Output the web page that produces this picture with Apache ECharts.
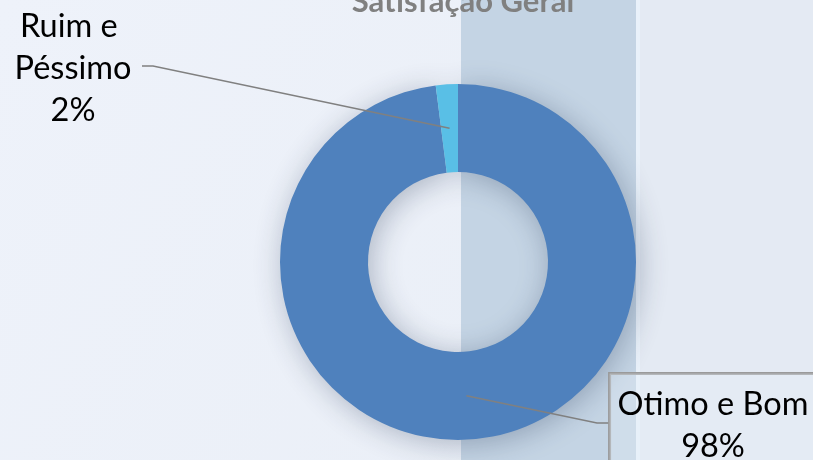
<!DOCTYPE html>
<html>
<head>
<meta charset="utf-8">
<script src="https://cdn.jsdelivr.net/npm/echarts@6/dist/echarts.min.js"></script>
<style>
  html, body { margin: 0; padding: 0; }
  #chart { width: 813px; height: 460px; }
</style>
</head>
<body>
<div id="chart"></div>
<script>
// dados
const categories = ['Otimo e Bom', 'Ruim e Péssimo'];
const values = [98, 2];
const colors = ['#4F81BD', '#59BFE6'];

const chart = echarts.init(document.getElementById('chart'));

const center = [458, 262];
const radius = [90, 178];
const midR = (radius[0] + radius[1]) / 2;

// onde cada rótulo fica e onde a linha dobra
const labelSpots = [
  { x: 715, y: 426, elbow: [597, 423], end: [609, 423] },
  { x: 73, y: 69, elbow: [153, 66], end: [142, 66] },
];

const labelFont = { fontFamily: 'Lato', fontSize: 32.5, lineHeight: 42, color: '#000' };

chart.setOption({
  backgroundColor: '#EDF2FA',
  title: {
    text: 'Satisfação Geral',
    left: 458,
    textAlign: 'center',
    top: -19,
    textStyle: { color: '#808080', fontFamily: 'Lato', fontWeight: 'bold', fontSize: 31 },
  },
  graphic: [
    {
      type: 'rect', z: -10, silent: true,
      shape: { x: 0, y: 0, width: 813, height: 460 },
      style: {
        fill: new echarts.graphic.LinearGradient(0, 0, 1, 1, [
          { offset: 0, color: '#EEF2FA' },
          { offset: 1, color: '#E9EEF6' },
        ]),
      },
    },
    {
      type: 'rect', z: -9, silent: true,
      shape: { x: 636, y: 0, width: 177, height: 460 },
      style: { fill: '#E4EAF3' },
    },
    {
      type: 'rect', z: -8, silent: true,
      shape: { x: 461, y: 0, width: 175, height: 460 },
      style: { fill: '#C4D4E4' },
    },
    {
      type: 'rect', z: -8, silent: true,
      shape: { x: 636, y: 0, width: 4, height: 460 },
      style: { fill: '#E9F1FA' },
    },
  ],
  series: [
    {
      // anel
      type: 'pie',
      z: 2,
      center: center,
      radius: radius,
      startAngle: 90,
      silent: true,
      label: { show: false },
      labelLine: { show: false },
      data: categories.map((name, i) => ({
        name: name,
        value: values[i],
        itemStyle: i === 0
          ? { color: colors[i], shadowBlur: 30, shadowColor: 'rgba(30,50,80,0.32)', shadowOffsetX: 3, shadowOffsetY: 4 }
          : { color: colors[i] },
      })),
    },
    {
      // rótulos por cima do anel
      type: 'pie',
      z: 5,
      center: center,
      radius: radius,
      startAngle: 90,
      silent: true,
      avoidLabelOverlap: false,
      itemStyle: { color: 'rgba(0,0,0,0)' },
      label: Object.assign({ show: true, formatter: '{b}\n{d}%', align: 'center' }, labelFont),
      labelLine: { show: true, lineStyle: { color: '#808080', width: 1.5 } },
      labelLayout: function (params) {
        const spot = labelSpots[params.dataIndex];
        const p0 = params.labelLinePoints[0];
        const a = Math.atan2(p0[1] - center[1], p0[0] - center[0]);
        const start = [center[0] + midR * Math.cos(a), center[1] + midR * Math.sin(a)];
        return {
          x: spot.x,
          y: spot.y,
          align: 'center',
          verticalAlign: 'middle',
          labelLinePoints: [start, spot.elbow, spot.end],
        };
      },
      data: categories.map((name, i) => ({
        name: name,
        value: values[i],
        label: i === 0
          ? { borderColor: '#9a9a9a', borderWidth: 1.5, padding: [9, 12, 12, 8], backgroundColor: 'rgba(230,238,246,0.35)' }
          : { width: 150, overflow: 'break' },
      })),
    },
  ],
});
</script>
</body>
</html>
